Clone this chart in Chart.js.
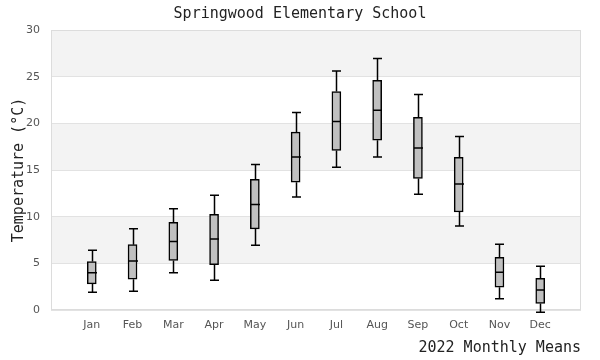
<!DOCTYPE html>
<html>
<head>
<meta charset="utf-8">
<script src="https://cdn.jsdelivr.net/npm/chart.js@4"></script>
<style>
  html, body { margin: 0; padding: 0; background: #fff; }
</style>
</head>
<body>
<canvas id="c" width="600" height="360"></canvas>
<script>
const months = ['Jan','Feb','Mar','Apr','May','Jun','Jul','Aug','Sep','Oct','Nov','Dec'];
const whiskerLow  = [1.9, 2.0, 4.0, 3.2, 6.95, 12.1, 15.3, 16.4, 12.4, 9.0, 1.2, -0.25];
const q1          = [2.8, 3.3, 5.3, 4.85, 8.7, 13.7, 17.1, 18.2, 14.1, 10.5, 2.45, 0.7];
const medians     = [4.0, 5.25, 7.35, 7.6, 11.3, 16.4, 20.2, 21.4, 17.35, 13.5, 4.05, 2.15];
const q3          = [5.2, 7.0, 9.4, 10.25, 14.0, 19.05, 23.4, 24.6, 20.65, 16.35, 5.65, 3.4];
const whiskerHigh = [6.4, 8.7, 10.85, 12.3, 15.6, 21.15, 25.6, 26.95, 23.1, 18.6, 7.05, 4.7];
const yTicks = [0, 5, 10, 15, 20, 25, 30];

const monoFont = 'DejaVu Sans Mono';
const sansFont = 'DejaVu Sans';

// alternating shaded bands + plot frame
const bands = {
  id: 'bands',
  beforeDraw(c) {
    const { ctx, chartArea: a, scales: { y } } = c;
    ctx.save();
    ctx.fillStyle = '#f3f3f3';
    for (let i = 0; i < yTicks.length - 1; i++) {
      if (i % 2 === 0) continue;
      const top = y.getPixelForValue(yTicks[i + 1]), bot = y.getPixelForValue(yTicks[i]);
      ctx.fillRect(a.left, top, a.right - a.left, bot - top);
    }
    ctx.restore();
  },
  beforeDatasetsDraw(c) {
    const { ctx, chartArea: a } = c;
    ctx.save();
    ctx.strokeStyle = '#dcdcdc'; ctx.lineWidth = 1;
    ctx.strokeRect(a.left + 0.5, a.top + 0.5, a.right - a.left - 1, a.bottom - a.top - 1);
    ctx.restore();
  }
};

// whiskers, caps and median lines
const whiskers = {
  id: 'whiskers',
  afterDatasetsDraw(c) {
    const { ctx, scales: { x, y } } = c;
    const half = 4.5;
    ctx.save();
    ctx.strokeStyle = '#000'; ctx.lineWidth = 1.5;
    months.forEach((m, i) => {
      const px = Math.round(x.getPixelForValue(i + 1)) + 0.5;
      const yHi = y.getPixelForValue(whiskerHigh[i]), yQ3 = y.getPixelForValue(q3[i]);
      const yLo = y.getPixelForValue(whiskerLow[i]), yQ1 = y.getPixelForValue(q1[i]);
      const yMed = y.getPixelForValue(medians[i]);
      ctx.beginPath();
      ctx.moveTo(px, yHi); ctx.lineTo(px, yQ3);
      ctx.moveTo(px, yQ1); ctx.lineTo(px, yLo);
      ctx.moveTo(px - half, yHi); ctx.lineTo(px + half, yHi);
      ctx.moveTo(px - half, yLo); ctx.lineTo(px + half, yLo);
      ctx.moveTo(px - half, yMed); ctx.lineTo(px + half, yMed);
      ctx.stroke();
    });
    ctx.restore();
  }
};

new Chart(document.getElementById('c'), {
  type: 'bar',
  data: {
    datasets: [{
      data: months.map((m, i) => ({ x: i + 1, y: [q1[i], q3[i]] })),
      backgroundColor: '#c0c0c0',
      borderColor: '#000',
      borderWidth: 1.5,
      borderSkipped: false,
      barThickness: 9
    }]
  },
  options: {
    responsive: false,
    animation: false,
    layout: { padding: 0 },
    plugins: {
      legend: { display: false },
      tooltip: { enabled: false },
      title: {
        display: true,
        text: 'Springwood Elementary School',
        color: '#222',
        font: { family: monoFont, size: 15, weight: 'normal' },
        padding: { top: 5, bottom: 7 }
      }
    },
    scales: {
      x: {
        type: 'linear',
        min: 0, max: 13,
        offset: false,
        afterFit(s) { s.height = 50; },
        afterBuildTicks(s) { s.ticks = months.map((m, i) => ({ value: i + 1 })); },
        grid: { display: false, drawTicks: false },
        border: { display: false },
        ticks: {
          autoSkip: false, maxRotation: 0, padding: 9,
          color: '#555', font: { family: sansFont, size: 11 },
          callback: v => months[v - 1] || ''
        },
        title: {
          display: true, text: '2022 Monthly Means', align: 'end',
          color: '#222', font: { family: monoFont, size: 15 },
          padding: { top: 0, bottom: 3 }
        }
      },
      y: {
        min: 0, max: 30,
        afterFit(s) { s.width = 51; },
        afterBuildTicks(s) { s.ticks = yTicks.map(v => ({ value: v })); },
        grid: { color: '#e2e2e2', drawTicks: false },
        border: { display: false },
        ticks: { padding: 11, color: '#555', font: { family: sansFont, size: 11 } },
        title: {
          display: true, text: 'Temperature (°C)',
          color: '#222', font: { family: monoFont, size: 15 },
          padding: { top: 10, bottom: 0 }
        }
      },
      // empty right-hand spacer so the title stays centred on the canvas
      yRight: {
        position: 'right',
        min: 0, max: 30,
        afterFit(s) { s.width = 19; },
        grid: { display: false, drawTicks: false },
        border: { display: false },
        ticks: { display: false }
      }
    }
  },
  plugins: [bands, whiskers]
});
</script>
</body>
</html>
